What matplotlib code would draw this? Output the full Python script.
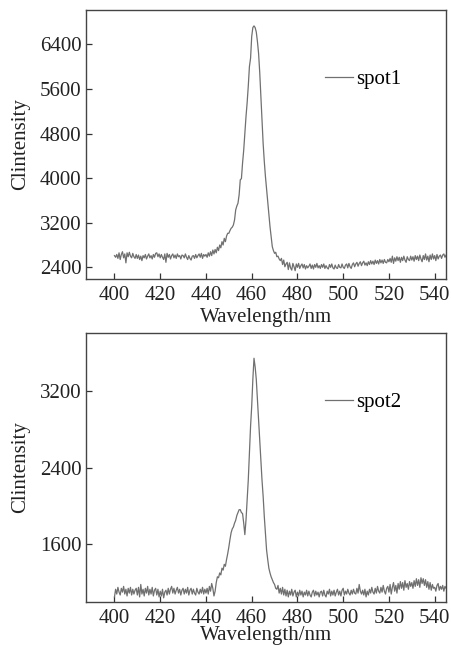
import numpy as np
import matplotlib
matplotlib.use("Agg")
import matplotlib.pyplot as plt

plt.rcParams['font.family'] = ['Liberation Serif', 'DejaVu Serif']

# wavelength grid, 0.5 nm steps from 400 to 545 nm
wavelength = np.arange(400, 545.01, 0.5)

spot1 = [
    2610, 2580, 2630, 2560, 2660, 2540, 2630, 2680, 2570, 2640, 2480, 2660, 2590, 2670, 2600, 2570, 2650, 2590, 2560, 2630,
    2560, 2620, 2540, 2600, 2520, 2610, 2570, 2630, 2550, 2600, 2640, 2570, 2610, 2550, 2630, 2580, 2650, 2660, 2590, 2640,
    2570, 2630, 2580, 2540, 2640, 2490, 2650, 2580, 2630, 2550, 2610, 2640, 2570, 2620, 2560, 2640, 2590, 2610, 2550, 2620,
    2610, 2570, 2640, 2580, 2540, 2610, 2560, 2530, 2600, 2610, 2560, 2630, 2570, 2610, 2640, 2580, 2650, 2560, 2630, 2600,
    2630, 2580, 2660, 2600, 2680, 2610, 2710, 2640, 2720, 2660, 2760, 2700, 2800, 2750, 2860, 2800, 2920, 2860, 2960, 3010,
    3010, 3060, 3100, 3120, 3160, 3250, 3430, 3500, 3550, 3700, 3970, 3990, 4270, 4500, 4800, 5100, 5350, 5650, 6000, 6150,
    6540, 6700, 6730, 6700, 6620, 6450, 6240, 5900, 5460, 5050, 4620, 4300, 4030, 3800, 3550, 3330, 3130, 2950, 2770, 2700,
    2650, 2670, 2590, 2600, 2550, 2520, 2560, 2450, 2530, 2410, 2460, 2490, 2360, 2480, 2390, 2350, 2470, 2410, 2340, 2460,
    2400, 2470, 2380, 2430, 2460, 2390, 2450, 2370, 2430, 2390, 2420, 2460, 2380, 2440, 2370, 2450, 2400, 2470, 2390, 2430,
    2380, 2450, 2400, 2460, 2380, 2430, 2390, 2370, 2450, 2400, 2460, 2390, 2370, 2440, 2390, 2380, 2450, 2400, 2390, 2460,
    2400, 2380, 2440, 2460, 2390, 2470, 2410, 2380, 2450, 2480, 2410, 2460, 2490, 2420, 2470, 2500, 2430, 2480, 2510, 2440,
    2480, 2430, 2500, 2450, 2520, 2460, 2510, 2450, 2530, 2470, 2520, 2460, 2540, 2480, 2530, 2470, 2540, 2490, 2480, 2540,
    2500, 2560, 2490, 2600, 2470, 2570, 2510, 2590, 2520, 2580, 2490, 2580, 2520, 2600, 2530, 2490, 2590, 2540, 2520, 2600,
    2530, 2590, 2510, 2610, 2540, 2600, 2520, 2620, 2550, 2500, 2610, 2540, 2640, 2530, 2600, 2500, 2620, 2540, 2640, 2550,
    2610, 2520, 2630, 2550, 2600, 2620, 2560, 2620, 2640, 2580, 2620,
]

spot2 = [
    1050, 1130, 1080, 1150, 1100, 1070, 1140, 1100, 1160, 1080, 1130, 1060, 1140, 1090, 1150, 1070, 1130, 1080, 1120, 1140,
    1070, 1150, 1050, 1180, 1080, 1130, 1060, 1140, 1090, 1160, 1070, 1130, 1080, 1150, 1060, 1120, 1140, 1070, 1130, 1050,
    1110, 1060, 1130, 1040, 1100, 1120, 1070, 1140, 1080, 1130, 1160, 1090, 1140, 1080, 1120, 1150, 1090, 1130, 1070, 1120,
    1140, 1080, 1130, 1090, 1150, 1070, 1120, 1140, 1080, 1130, 1090, 1070, 1140, 1100, 1080, 1130, 1090, 1150, 1080, 1130,
    1090, 1140, 1080, 1160, 1110, 1190, 1140, 1060, 1110, 1200, 1260, 1250, 1300, 1280, 1350, 1330, 1390, 1370, 1440, 1500,
    1570, 1650, 1720, 1760, 1780, 1820, 1850, 1900, 1930, 1960, 1960, 1930, 1920, 1820, 1700, 1850, 2060, 2270, 2550, 2830,
    3040, 3320, 3540, 3450, 3320, 3110, 2920, 2690, 2480, 2270, 2100, 1890, 1720, 1540, 1440, 1350, 1300, 1260, 1230, 1200,
    1180, 1140, 1130, 1170, 1090, 1140, 1080, 1150, 1070, 1130, 1060, 1120, 1050, 1110, 1070, 1130, 1060, 1100, 1120, 1050,
    1100, 1060, 1120, 1070, 1110, 1050, 1100, 1070, 1120, 1060, 1110, 1070, 1050, 1100, 1120, 1060, 1110, 1070, 1100, 1050,
    1100, 1110, 1060, 1120, 1070, 1050, 1110, 1080, 1130, 1060, 1110, 1070, 1120, 1060, 1100, 1130, 1070, 1110, 1060, 1120,
    1140, 1070, 1110, 1080, 1130, 1090, 1070, 1120, 1080, 1130, 1090, 1080, 1140, 1090, 1180, 1110, 1080, 1120, 1070, 1130,
    1050, 1110, 1070, 1130, 1090, 1150, 1100, 1080, 1140, 1090, 1160, 1110, 1090, 1150, 1100, 1170, 1110, 1080, 1140, 1160,
    1100, 1180, 1080, 1150, 1200, 1110, 1170, 1090, 1190, 1130, 1210, 1140, 1200, 1120, 1220, 1150, 1190, 1130, 1210, 1160,
    1200, 1140, 1220, 1160, 1240, 1170, 1230, 1150, 1250, 1190, 1240, 1170, 1230, 1150, 1210, 1130, 1200, 1120, 1180, 1140,
    1150, 1110, 1170, 1190, 1120, 1160, 1130, 1170, 1110, 1160, 1140,
]

xticks = [400, 420, 440, 460, 480, 500, 520, 540]
yticks1 = [2400, 3200, 4000, 4800, 5600, 6400]
yticks2 = [1600, 2400, 3200]

panels = [
    (spot1, "spot1", yticks1, (2190, 7015), [0.190, 0.5674, 0.797, 0.4171], 2),
    (spot2, "spot2", yticks2, (1000, 3800), [0.190, 0.0671, 0.797, 0.4161], -1),
]

fig = plt.figure(figsize=(4.52, 6.45), dpi=100)

for values, name, yt, ylim, rect, xpad in panels:
    ax = fig.add_axes(rect)
    ax.plot(wavelength, values, color='#707070', lw=0.9, label=name)
    ax.set_xlim(387.5, 545)
    ax.set_ylim(*ylim)
    ax.set_xticks(xticks)
    ax.set_yticks(yt)
    ax.tick_params(direction='in', length=4, width=0.9, color='#333333',
                   labelsize=15, labelcolor='#222222')
    ax.tick_params(axis='x', pad=5)
    ax.tick_params(axis='y', pad=3)
    for sp in ax.spines.values():
        sp.set_color('#444444')
        sp.set_linewidth(1.0)
    ax.set_xlabel("Wavelength/nm", fontsize=15, labelpad=xpad, color='#222222')
    ax.set_ylabel("Clintensity", fontsize=15, labelpad=7, color='#222222')
    ax.legend(loc='center left', bbox_to_anchor=(0.664, 0.743), frameon=False,
              fontsize=15, handlelength=1.35, handletextpad=0.15,
              borderpad=0, borderaxespad=0)

fig.savefig("out.png", dpi=100)
